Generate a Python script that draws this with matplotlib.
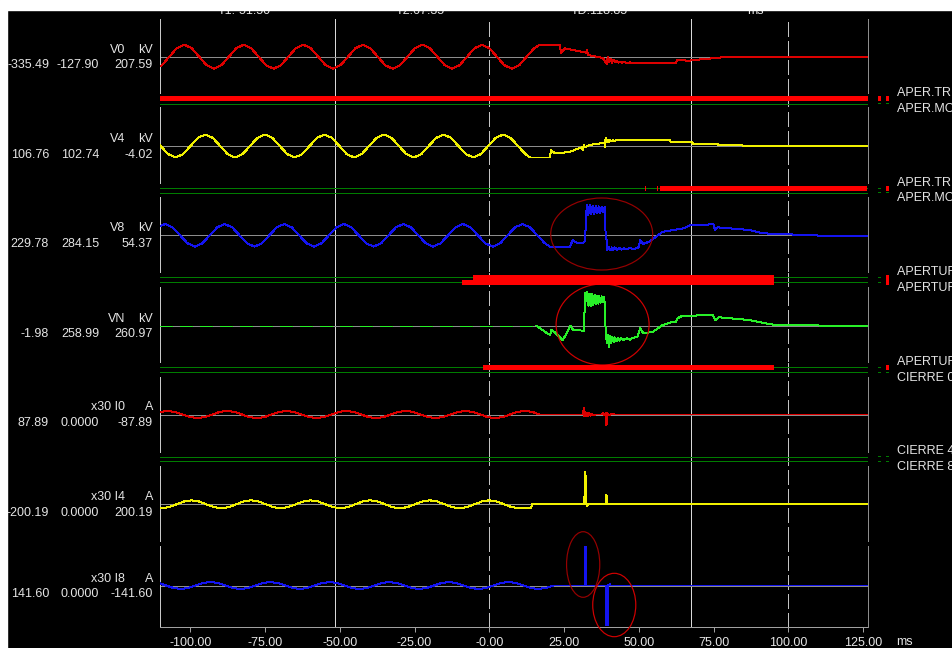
import matplotlib

matplotlib.use("Agg")
import matplotlib.pyplot as plt
import numpy as np
from matplotlib.patches import Ellipse, Rectangle

plt.rcParams["font.family"] = ["Liberation Sans", "DejaVu Sans"]

# ---------------- time base (ms) ----------------
t_min, t_max = -110.3, 126.5
cursor_t1, cursor_t2 = -51.50, 67.35
dashed_marks = [0.0, 100.0]
tick_values = [-100, -75, -50, -25, 0, 25, 50, 75, 100, 125]
tick_labels = ["-100.00", "-75.00", "-50.00", "-25.00", "-0.00",
               "25.00", "50.00", "75.00", "100.00", "125.00"]
sample_step = 2.49  # ms between pre-fault samples (8 per 50 Hz cycle)

# ---------------- analog channels ----------------
# V0 (kV)
v0_start = -112.0
v0_pre = [-336, -238, 0, 238, 336, 238, 0, -238,
          -336, -238, 0, 238, 336, 238, 0, -238,
          -336, -238, 0, 238, 336, 238, 0, -238,
          -336, -238, 0, 238, 336, 238, 0, -238,
          -336, -238, 0, 238, 336, 238, 0, -238,
          -336, -238, 0, 238, 336, 238, 0, -238,
          -336, -238, 0]
v0_event_t = [15.0, 17.0, 23.6, 24.0, 25.3, 29.0, 32.5, 32.7, 33.0, 35.9,
              38.0, 39.3, 39.6, 40.0, 40.5, 41.0, 41.5, 42.0, 42.6, 43.2,
              43.8, 44.4, 45.0, 46.0, 47.0, 48.0, 62.5, 62.8, 67.0, 71.0,
              75.0, 78.0, 82.0, 126.5]
v0_event = [238, 336, 336, 95, 235, 170, 112, 188, 48, 0,
            -36, -204, 0, -140, -56, -168, -84, -160, -112, -168,
            -140, -172, -150, -172, -160, -172, -176, -100, -110, -70,
            -45, -15, 0, 0]

# V4 (kV)
v4_start = -112.4
v4_pre = [228, 0, -228, -322, -228, 0, 228, 322,
          228, 0, -228, -322, -228, 0, 228, 322,
          228, 0, -228, -322, -228, 0, 228, 322,
          228, 0, -228, -322, -228, 0, 228, 322,
          228, 0, -228, -322, -228, 0, 228, 322,
          228, 0, -228, -322, -228, 0, 228, 322,
          228, 0, -228]
v4_event_t = [13.6, 20.3, 20.6, 22.0, 24.0, 27.0, 30.0, 31.0, 31.3, 31.6,
              32.0, 33.5, 38.5, 38.7, 38.9, 39.2, 39.6, 40.0, 40.4, 40.8,
              41.3, 41.8, 42.5, 44.5, 60.3, 60.6, 67.8, 68.1, 76.3, 76.6,
              84.7, 85.0, 126.5]
v4_event = [-322, -322, -112, -204, -196, -160, -64, -40, -120, 20,
            -40, 28, 92, -30, 220, 100, 170, 120, 165, 130,
            160, 140, 160, 168, 168, 120, 120, 56, 56, 20,
            20, 0, 0]

# V8 (kV)
v8_start = -110.9
v8_pre = [224, 316, 224, 0, -224, -316, -224, 0,
          224, 316, 224, 0, -224, -316, -224, 0,
          224, 316, 224, 0, -224, -316, -224, 0,
          224, 316, 224, 0, -224, -316, -224, 0,
          224, 316, 224, 0, -224, -316, -224, 0,
          224, 316, 224, 0, -224, -316, -224, 0,
          224, 316, 224, 0]
v8_event_t = [18.6, 20.3, 27.0, 27.9, 29.2, 31.4, 32.0, 32.6, 33.1, 33.6,
              34.1, 34.6, 35.1, 35.6, 36.1, 36.6, 37.1, 37.6, 38.1, 38.6,
              38.9, 39.2, 39.5, 40.0, 40.5, 41.0, 41.5, 42.0, 42.7, 43.4,
              44.1, 45.0, 46.0, 47.0, 48.0, 49.0, 50.0, 50.5, 51.5, 53.5,
              58.0, 65.0, 67.3, 75.0, 75.5, 76.3, 87.0, 91.5, 99.0, 114.0,
              126.5]
v8_event = [-224, -316, -316, -134, -207, -207, -160, 848, 580, 840,
            590, 830, 600, 820, 610, 810, 620, 800, 640, 790,
            50, -100, -412, -330, -420, -340, -410, -340, -400, -350,
            -400, -360, -390, -360, -380, -370, -330, -130, -240, -180,
            100, 196, 284, 308, 150, 224, 148, 56, 30, -20,
            -20]

# VN (kV) - flat before the event
vn_start = None
vn_pre = []
vn_flat_t = [-110.3, 15.8]
vn_flat = [0, 0]
vn_event_t = [15.8, 18.6, 20.3, 20.8, 22.3, 24.5, 25.6, 27.2, 28.0, 31.7,
              32.0, 32.4, 32.8, 33.2, 33.6, 34.0, 34.4, 34.8, 35.2, 35.6,
              36.0, 36.4, 36.8, 37.2, 37.6, 38.0, 38.5, 38.7, 39.0, 39.3,
              39.6, 40.0, 40.4, 40.8, 41.2, 41.6, 42.0, 42.5, 43.0, 43.5,
              44.0, 45.0, 46.0, 47.0, 48.0, 49.5, 50.5, 51.5, 54.8, 58.0,
              61.3, 62.3, 63.0, 64.4, 67.4, 70.5, 74.8, 75.6, 76.8, 87.0,
              93.4, 97.3, 126.5]
vn_event = [0, -168, -260, -120, -213, -400, -260, 0, -120, -140,
            920, 700, 940, 560, 900, 560, 880, 580, 860, 600,
            840, 620, 830, 640, 820, 650, 800, 160, -160, -493,
            -250, -588, -300, -480, -320, -460, -330, -440, -340, -420,
            -340, -400, -350, -390, -340, -320, -73, -213, -168, 20,
            112, 90, 207, 272, 260, 300, 300, 160, 235, 160,
            48, 10, 0]

# I0 (A, x30)
i0_start = -110.1
i0_pre = [128, 180, 128, 0, -128, -180, -128, 0,
          128, 180, 128, 0, -128, -180, -128, 0,
          128, 180, 128, 0, -128, -180, -128, 0,
          128, 180, 128, 0, -128, -180, -128, 0,
          128, 180, 128, 0, -128, -180, -128, 0,
          128, 180, 128, 0, -128, -180, -128, 0,
          128, 180, 128, 0]
i0_event_t = [31.4, 31.6, 31.8, 32.1, 32.4, 32.7, 33.0, 33.4, 33.8, 34.3,
              34.8, 35.5, 37.5, 38.0, 38.5, 39.0, 39.2, 39.4, 40.0, 41.0,
              42.0, 126.5]
i0_event = [0, 333, -100, 150, -100, 80, -80, 60, -60, 40,
            -40, 0, 0, 60, -40, 100, -525, 60, -30, 30,
            0, 0]

# I4 (A, x30)
i4_start = -112.05
i4_pre = [-141, -200, -141, 0, 141, 200, 141, 0,
          -141, -200, -141, 0, 141, 200, 141, 0,
          -141, -200, -141, 0, 141, 200, 141, 0,
          -141, -200, -141, 0, 141, 200, 141, 0,
          -141, -200, -141, 0, 141, 200, 141, 0,
          -141, -200, -141, 0, 141, 200, 141, 0,
          -141, -200]
i4_event_t = [14.0, 14.3, 31.8, 32.0, 32.2, 32.3, 32.5, 32.7, 33.0, 39.0,
              39.2, 39.4, 126.5]
i4_event = [-180, 0, 0, 1630, 0, 1400, 0, -100, 0, 0,
            465, 0, 0]

# I8 (A, x30)
i8_start = -110.63
i8_pre = [124, 0, -124, -175, -124, 0, 124, 175,
          124, 0, -124, -175, -124, 0, 124, 175,
          124, 0, -124, -175, -124, 0, 124, 175,
          124, 0, -124, -175, -124, 0, 124, 175,
          124, 0, -124, -175, -124, 0, 124, 175,
          124, 0, -124, -175, -124, 0, 124, 175,
          124, 0, -124, -175, -124, 0]
i8_event_t = [31.9, 32.0, 32.3, 32.4, 38.9, 39.0, 39.1, 39.2, 39.5, 39.6,
              39.7, 40.3, 40.5, 126.5]
i8_event = [0, 1950, 1950, 0, 0, -2000, -2000, -150, -150, -2000,
            0, 65, 0, 0]

channel_names = ["V0", "V4", "V8", "VN", "x30 I0", "x30 I4", "x30 I8"]
channel_units = ["kV", "kV", "kV", "kV", "A", "A", "A"]
read_t1 = [-335.49, 106.76, 229.78, -1.98, 87.89, -200.19, 141.60]
read_t2 = [-127.90, 102.74, 284.15, 258.99, 0.0, 0.0, 0.0]

# ---------------- digital channels ----------------
dig_names = [("APER.TRIP 0", "APER.MONO 0"),
             ("APER.TRIP 4", "APER.MONO 4"),
             ("APERTURA 0", "APERTURA 4"),
             ("APERTURA 8", "CIERRE 0"),
             ("CIERRE 4", "CIERRE 8")]
# active intervals (start ms, duration ms)
dig_on = [([(-110.3, 236.8)], []),
          ([(52.2, 0.3), (53.6, 0.3), (56.2, 0.3), (57.0, 0.3), (57.6, 68.9)], []),
          ([(-5.5, 100.7)], [(-9.2, 104.4)]),
          ([(-2.2, 97.4)], []),
          ([], [])]

# ---------------- annotations (red ellipses) ----------------
ell_channel = [2, 3, 6, 6]
ell_t = [37.6, 37.9, 31.4, 41.8]
ell_v = [36, 34, 1050, -975]
ell_w = [34.1, 31.1, 11.1, 14.4]
ell_h = [2016, 2268, 3280, 3170]

# ---------------- layout / style ----------------
FIG_W, FIG_H = 952, 648
AX_LEFT, AX_RIGHT = 159.5, 867.5
analog_rows = [(19, 93, 56.7), (107, 183, 146.0), (197, 272, 235.3), (287, 362, 325.7),
               (377, 452, 414.5), (466, 541, 504.3), (546, 627, 585.5)]
digital_rows = [(93, 107, 98.5, 103.5), (183, 197, 188.3, 192.7), (272, 287, 277.3, 282.3),
                (362, 377, 367.3, 372.3), (452, 466, 456.7, 461.3)]
spacer_rows = [(541, 546)]
units_per_px = [28, 28, 28, 28, 50, 50, 50]
trace_colors = ["#dd0000", "#f0f000", "#1414f0", "#28f028", "#dd0000", "#f0f000", "#1414f0"]
ell_colors = ["#960000", "#d00000", "#960000", "#d00000"]
TEXT = "#e4e4e4"
CURSOR = "#d8d8d8"
ZERO = "#8c8c8c"
GREEN = "#007c00"
RED = "#ff0000"
PX = 0.72  # one pixel in points

channels = [
    (v0_start, v0_pre, v0_event_t, v0_event),
    (v4_start, v4_pre, v4_event_t, v4_event),
    (v8_start, v8_pre, v8_event_t, v8_event),
    (vn_start, vn_pre, vn_event_t, vn_event),
    (i0_start, i0_pre, i0_event_t, i0_event),
    (i4_start, i4_pre, i4_event_t, i4_event),
    (i8_start, i8_pre, i8_event_t, i8_event),
]


def strip_rect(top, bottom):
    return [AX_LEFT / FIG_W, 1 - bottom / FIG_H, (AX_RIGHT - AX_LEFT) / FIG_W, (bottom - top) / FIG_H]


def add_cursors(ax):
    for t in (cursor_t1, cursor_t2):
        ax.axvline(t, color=CURSOR, lw=PX, antialiased=False, zorder=1)
    for t in dashed_marks:
        ax.axvline(t, color="#c4c4c4", lw=PX, dashes=(14, 5), antialiased=False, zorder=1)


def fmt(v):
    return "0.0000" if v == 0 else f"{v:.2f}"


def is_on(intervals, t):
    return any(s <= t < s + w for s, w in intervals)


fig = plt.figure(figsize=(FIG_W / 100, FIG_H / 100), dpi=100, facecolor="black")
analog_axes = []

for i, (start, pre, ev_t, ev_v) in enumerate(channels):
    top, bottom, zero = analog_rows[i]
    scale = units_per_px[i]
    ax = fig.add_axes(strip_rect(top, bottom))
    ax.set_facecolor("none")
    ax.set_xlim(t_min, t_max)
    ax.set_ylim(-(bottom - zero) * scale, (zero - top) * scale)
    for side in ("top", "bottom"):
        ax.spines[side].set_visible(False)
    ax.spines["left"].set_color("#c8c8c8")
    ax.spines["right"].set_color("#8c8c8c")
    for side in ("left", "right"):
        ax.spines[side].set_linewidth(PX)
        ax.spines[side].set_antialiased(False)
    ax.set_yticks([])
    ax.set_xticks([])
    add_cursors(ax)
    ax.axhline(0, color=ZERO, lw=PX, antialiased=False, zorder=2)

    if start is not None:
        t = np.concatenate([start + sample_step * np.arange(len(pre)), ev_t])
        v = np.concatenate([pre, ev_v])
    else:
        t, v = np.asarray(ev_t), np.asarray(ev_v)
        ax.plot(vn_flat_t, vn_flat, color=trace_colors[i], lw=PX * 1.4, dashes=(9, 5),
                antialiased=False, zorder=3)
    ax.plot(t, v, color=trace_colors[i], lw=PX, antialiased=False, zorder=3)

    # cursor readouts on the left
    ytr = ax.get_yaxis_transform()
    diff = read_t2[i] - read_t1[i]
    labels = [(channel_names[i], 125, 7), (channel_units[i], 153, 7),
              (fmt(read_t1[i]), 49, -8.5), (fmt(read_t2[i]), 99, -8.5), (f"{diff:.2f}", 153, -8.5)]
    for s, x_px, dy in labels:
        ax.annotate(s, xy=(0, 0), xycoords=ytr, xytext=(x_px - AX_LEFT, dy),
                    textcoords="offset pixels", ha="right", va="center",
                    color=TEXT, fontsize=9, annotation_clip=False)
    analog_axes.append(ax)

# bottom time axis on the last strip
ax = analog_axes[-1]
ax.spines["bottom"].set_visible(True)
ax.spines["bottom"].set_color("#a0a0a0")
ax.spines["bottom"].set_linewidth(PX)
ax.set_xticks(tick_values)
ax.set_xticklabels(tick_labels)
ax.tick_params(axis="x", direction="out", length=3.4, width=PX, color="#a0a0a0",
               labelcolor=TEXT, labelsize=9, pad=4)

# annotation ellipses
for ci, t, v, w, h, c in zip(ell_channel, ell_t, ell_v, ell_w, ell_h, ell_colors):
    analog_axes[ci].add_patch(Ellipse((t, v), w, h, fill=False, edgecolor=c,
                                      lw=PX * 1.2, clip_on=False, zorder=4))

# digital strips
col_x = [(877.5 - AX_LEFT) / (AX_RIGHT - AX_LEFT), (885.5 - AX_LEFT) / (AX_RIGHT - AX_LEFT)]
col_w = 3.5 / (AX_RIGHT - AX_LEFT)
for (top, bottom, y1, y2), names, bars in zip(digital_rows, dig_names, dig_on):
    ax = fig.add_axes(strip_rect(top, bottom))
    ax.set_facecolor("none")
    ax.set_axis_off()
    ax.set_xlim(t_min, t_max)
    ax.set_ylim(bottom, top)
    add_cursors(ax)
    ytr = ax.get_yaxis_transform()
    for y, name, intervals, dy in zip((y1, y2), names, bars, (5.5, -5.5)):
        ax.axhline(y, color=GREEN, lw=PX, antialiased=False, zorder=2)
        if intervals:
            ax.broken_barh(intervals, (y - 2.2, 4.4), facecolors=RED, linewidth=0,
                           antialiased=False, zorder=3)
        for cx, tc in zip(col_x, (cursor_t1, cursor_t2)):
            if is_on(intervals, tc):
                r = Rectangle((cx, y - 2.4), col_w, 4.8, transform=ytr, facecolor=RED,
                              linewidth=0, clip_on=False, antialiased=False)
            else:
                r = Rectangle((cx, y - 0.5), col_w, 1.0, transform=ytr, facecolor=GREEN,
                              linewidth=0, clip_on=False, antialiased=False)
            ax.add_patch(r)
        ax.annotate(name, xy=(1, y), xycoords=ytr, xytext=(897 - AX_RIGHT, dy),
                    textcoords="offset pixels", ha="left", va="center",
                    color=TEXT, fontsize=9, annotation_clip=False)

for top, bottom in spacer_rows:
    ax = fig.add_axes(strip_rect(top, bottom))
    ax.set_facecolor("none")
    ax.set_axis_off()
    ax.set_xlim(t_min, t_max)
    add_cursors(ax)

# header readouts (mostly hidden under the white band) and unit
header = [f"T1:{cursor_t1:.2f}", f"T2:{cursor_t2:.2f}", f"TD:{cursor_t2 - cursor_t1:.2f}", "ms"]
header_x = [244, 420, 599, 755]
for s, x in zip(header, header_x):
    fig.text(x / FIG_W, 1 - 14 / FIG_H, s, ha="center", va="baseline", color=TEXT, fontsize=9)
fig.text(904 / FIG_W, 1 - 642 / FIG_H, "ms", ha="center", va="center", color=TEXT, fontsize=9)

# white window frame at top and left
fig.add_artist(Rectangle((0, 1 - 10 / FIG_H), 1, 10 / FIG_H, transform=fig.transFigure,
                         color="white", zorder=20))
fig.add_artist(Rectangle((0, 0), 7 / FIG_W, 1, transform=fig.transFigure,
                         color="white", zorder=20))

fig.savefig("out.png", dpi=100, facecolor="black")
